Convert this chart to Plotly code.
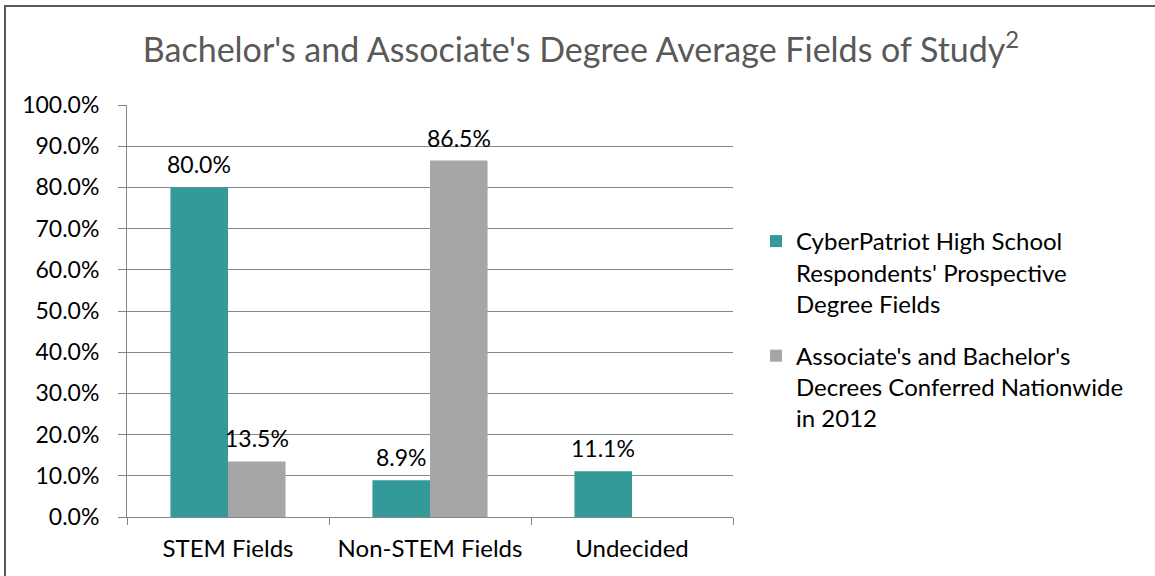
import plotly.graph_objects as go

categories = ["STEM Fields", "Non-STEM Fields", "Undecided"]
cyberpatriot = [0.800, 0.089, 0.111]
nationwide = [0.135, 0.865, None]
series_names = [
    "CyberPatriot High School<br>Respondents' Prospective<br>Degree Fields",
    "Associate's and Bachelor's<br>Decrees Conferred Nationwide<br>in 2012",
]
title_text = "Bachelor's and Associate's Degree Average Fields of Study<sup>2</sup>"

FONT = "Lato, Open Sans, sans-serif"
W, H = 1155, 576
L, R, T, B = 127, 733, 105, 517

def px(x):
    return (x - L) / (R - L)

def py(y):
    return (B - y) / (B - T)

fig = go.Figure()
fig.add_trace(go.Bar(x=categories, y=cyberpatriot, name=series_names[0], legendgroup="a",
                     marker=dict(color="#339999", line=dict(width=0))))
fig.add_trace(go.Bar(x=categories, y=nationwide, name=series_names[1], legendgroup="b",
                     marker=dict(color="#A6A6A6", line=dict(width=0))))

annotations = []
for vals, shift in ((cyberpatriot, -28.7), (nationwide, 28.7)):
    for cat, v in zip(categories, vals):
        if v is None:
            continue
        annotations.append(dict(x=cat, y=v, xref="x", yref="y", text=f"{v*100:.1f}%",
                                showarrow=False, xshift=shift, yshift=7,
                                yanchor="bottom", xanchor="center",
                                font=dict(size=23, color="#000000", family=FONT)))

fig.update_layout(
    width=W, height=H,
    margin=dict(l=L, r=W - R, t=T, b=H - B),
    paper_bgcolor="white", plot_bgcolor="white",
    barmode="group", bargap=0.43, bargroupgap=0,
    font=dict(family=FONT, size=23, color="#000000"),
    title=dict(text=title_text, x=px(581), xref="paper", xanchor="center",
               y=1 - 50 / H, yanchor="middle",
               font=dict(size=34, color="#595959", family=FONT)),
    showlegend=True,
    legend=dict(x=px(756), y=py(219), xanchor="left", yanchor="top",
                font=dict(size=24, color="#000000", family=FONT),
                tracegroupgap=18, itemsizing="constant", valign="top",
                bgcolor="rgba(0,0,0,0)"),
    annotations=annotations,
    yaxis=dict(range=[0, 1], dtick=0.1, tickformat=".1%",
               showgrid=True, gridcolor="#868686", gridwidth=1,
               showline=True, linecolor="#868686", linewidth=1,
               ticks="outside", ticklen=8, tickcolor="#868686",
               ticklabelstandoff=14,
               tickfont=dict(size=23, color="#000000", family=FONT),
               zeroline=False, fixedrange=True),
    xaxis=dict(showline=True, linecolor="#868686", linewidth=1,
               ticks="outside", ticklen=7, tickcolor="#868686",
               tickson="boundaries", ticklabelstandoff=10,
               tickfont=dict(size=24, color="#000000", family=FONT),
               showgrid=False, fixedrange=True),
    shapes=[dict(type="rect", xref="paper", yref="paper",
                 x0=px(5), x1=px(1170), y0=py(600), y1=py(6),
                 line=dict(color="#595959", width=2), fillcolor="rgba(0,0,0,0)",
                 layer="above")],
)

fig.write_html("out.html", config={"displayModeBar": False},
               post_script="document.body.style.margin='0';document.body.style.overflow='hidden';")
